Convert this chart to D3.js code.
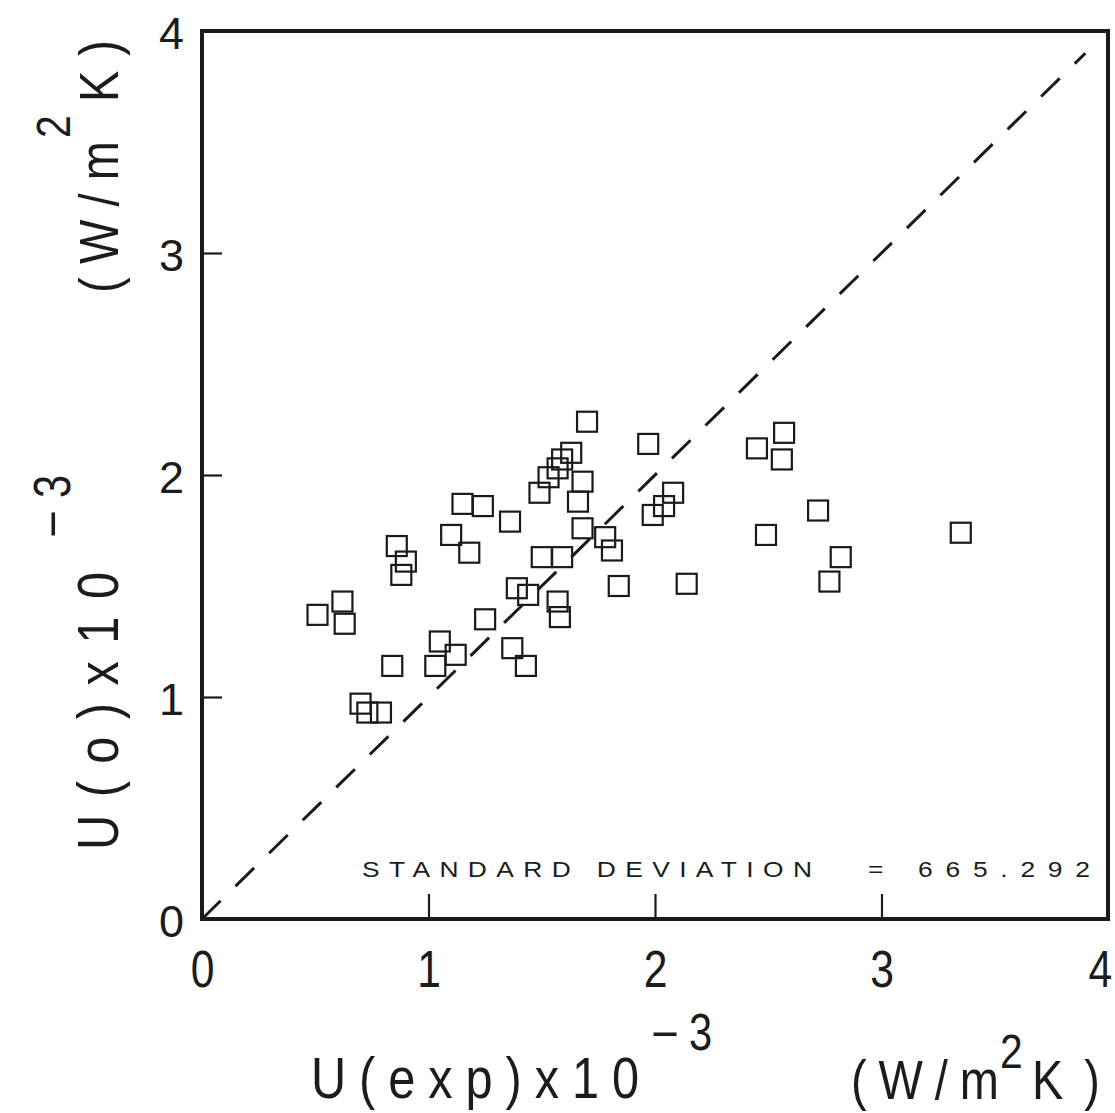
<!DOCTYPE html>
<html>
<head>
<meta charset="utf-8">
<script src="https://cdn.jsdelivr.net/npm/d3@7"></script>
<style>
  html, body { margin: 0; background: #fff; }
  svg { display: block; }
  text { fill: #1c1c1c; }
</style>
</head>
<body>
<svg id="chart" width="1115" height="1113"></svg>
<script>
// Overall heat transfer coefficient: experimental vs. correlated (x10^-3 W/m2K)
const uExp = [0.51, 0.62, 0.63, 0.70, 0.73, 0.79, 0.84, 0.86, 0.90, 0.88,
              1.05, 1.03, 1.12, 1.10, 1.15, 1.18, 1.24, 1.25, 1.36, 1.37,
              1.39, 1.43, 1.44, 1.49, 1.50, 1.53, 1.57, 1.59, 1.57, 1.58,
              1.59, 1.63, 1.66, 1.68, 1.68, 1.70, 1.78, 1.81, 1.84, 1.97,
              1.99, 2.04, 2.08, 2.14, 2.45, 2.49, 2.56, 2.57, 2.72, 2.77,
              2.82, 3.35];
const uO   = [1.37, 1.43, 1.33, 0.97, 0.93, 0.93, 1.14, 1.68, 1.61, 1.55,
              1.25, 1.14, 1.19, 1.73, 1.87, 1.65, 1.86, 1.35, 1.79, 1.22,
              1.49, 1.14, 1.46, 1.92, 1.63, 1.99, 2.03, 2.07, 1.43, 1.36,
              1.63, 2.10, 1.88, 1.76, 1.97, 2.24, 1.72, 1.66, 1.50, 2.14,
              1.82, 1.86, 1.92, 1.51, 2.12, 1.73, 2.07, 2.19, 1.84, 1.52,
              1.63, 1.74];
const tickValues = [0, 1, 2, 3, 4];
const tickLabels = ["0", "1", "2", "3", "4"];
const parityEnds = [0, 3.9];
const stdDevName = "STANDARD DEVIATION";
const stdDevValue = "665.292";

const svg = d3.select("#chart");
const x = d3.scaleLinear().domain([0, 4]).range([202, 1108]);
const y = d3.scaleLinear().domain([0, 4]).range([919, 31]);
const font = "'Liberation Sans', Arial, sans-serif";

// draws a text run, optionally squeezed horizontally and spread to a given length
function run(g, p) {
  const sx = p.sx || 1;
  const rot = p.rot ? " rotate(-90)" : "";
  const t = g.append("text")
    .attr("transform", `translate(${p.x},${p.y})${rot} scale(${sx},1)`)
    .attr("font-family", font)
    .attr("font-size", p.size)
    .text(p.text);
  if (p.len) t.attr("textLength", p.len / sx).attr("lengthAdjust", "spacing");
  return t;
}

// x axis: inward ticks, condensed digits below
const xAxis = svg.append("g")
  .attr("transform", `translate(0,${y(0)})`)
  .call(d3.axisBottom(x).tickValues(tickValues).tickSize(-25)
        .tickFormat((d, i) => tickLabels[i]));
xAxis.select(".domain").remove();
xAxis.selectAll(".tick line").attr("stroke", "#1c1c1c").attr("stroke-width", 2.2);
xAxis.selectAll(".tick text")
  .attr("y", 68).attr("dy", 0)
  .attr("x", d => d === 4 ? -10 : 0)
  .attr("font-family", font).attr("font-size", 52)
  .attr("transform", "scale(0.82,1)");

// y axis: inward ticks, labels on the left
const yAxis = svg.append("g")
  .attr("transform", `translate(${x(0)},0)`)
  .call(d3.axisLeft(y).tickValues(tickValues).tickSize(-20)
        .tickFormat((d, i) => tickLabels[i]));
yAxis.select(".domain").remove();
yAxis.selectAll(".tick line").attr("stroke", "#1c1c1c").attr("stroke-width", 2.2);
yAxis.selectAll(".tick text")
  .attr("x", -18).attr("dy", 0).attr("y", 17)
  .attr("font-family", font).attr("font-size", 45)
  .attr("text-anchor", "end");

// plot frame
svg.append("rect")
  .attr("x", x(0)).attr("y", y(4))
  .attr("width", x(4) - x(0)).attr("height", y(0) - y(4))
  .attr("fill", "none").attr("stroke", "#1a1a1a").attr("stroke-width", 4);

// 1:1 parity line
svg.append("line")
  .attr("x1", x(parityEnds[0])).attr("y1", y(parityEnds[0]))
  .attr("x2", x(parityEnds[1])).attr("y2", y(parityEnds[1]))
  .attr("stroke", "#1a1a1a").attr("stroke-width", 3)
  .attr("stroke-dasharray", "26 21");

// data points as open squares
const pts = uExp.map((v, i) => ({ ex: v, uo: uO[i] }));
svg.append("g").selectAll("rect").data(pts).join("rect")
  .attr("x", d => x(d.ex) - 10).attr("y", d => y(d.uo) - 10)
  .attr("width", 20).attr("height", 20)
  .attr("fill", "none").attr("stroke", "#1a1a1a").attr("stroke-width", 2.2);

// standard deviation annotation
const note = svg.append("g");
run(note, { text: stdDevName, x: 362, y: 877, len: 450, size: 22, sx: 1.2 });
run(note, { text: "=", x: 868, y: 877, size: 22, sx: 1.2 });
run(note, { text: stdDevValue, x: 918, y: 877, len: 172, size: 22, sx: 1.2 });

// x axis title: U(exp)x10^-3 (W/m^2K)
const xt = svg.append("g");
run(xt, { text: "U(exp)x10", x: 311, y: 1098, len: 328, size: 58, sx: 0.84 });
run(xt, { text: "\u2212", x: 651, y: 1051, size: 50, sx: 0.95 });
run(xt, { text: "3", x: 689, y: 1050, size: 52, sx: 0.8 });
run(xt, { text: "(W/m", x: 851, y: 1099, len: 148, size: 56, sx: 0.84 });
run(xt, { text: "2", x: 1000, y: 1068, size: 48, sx: 0.85 });
run(xt, { text: "K)", x: 1032, y: 1099, len: 68, size: 56, sx: 0.84 });

// y axis title: U(o)x10^-3 (W/m^2K), rotated
const yt = svg.append("g");
run(yt, { text: "U(o)x10", x: 118, y: 850, len: 278, size: 58, sx: 0.84, rot: true });
run(yt, { text: "\u2212", x: 70, y: 538, size: 50, sx: 0.95, rot: true });
run(yt, { text: "3", x: 70, y: 498, size: 52, sx: 0.8, rot: true });
run(yt, { text: "(W/m", x: 118, y: 293, len: 152, size: 56, sx: 0.84, rot: true });
run(yt, { text: "2", x: 70, y: 138, size: 48, sx: 0.85, rot: true });
run(yt, { text: "K)", x: 118, y: 102, len: 62, size: 56, sx: 0.84, rot: true });
</script>
</body>
</html>
